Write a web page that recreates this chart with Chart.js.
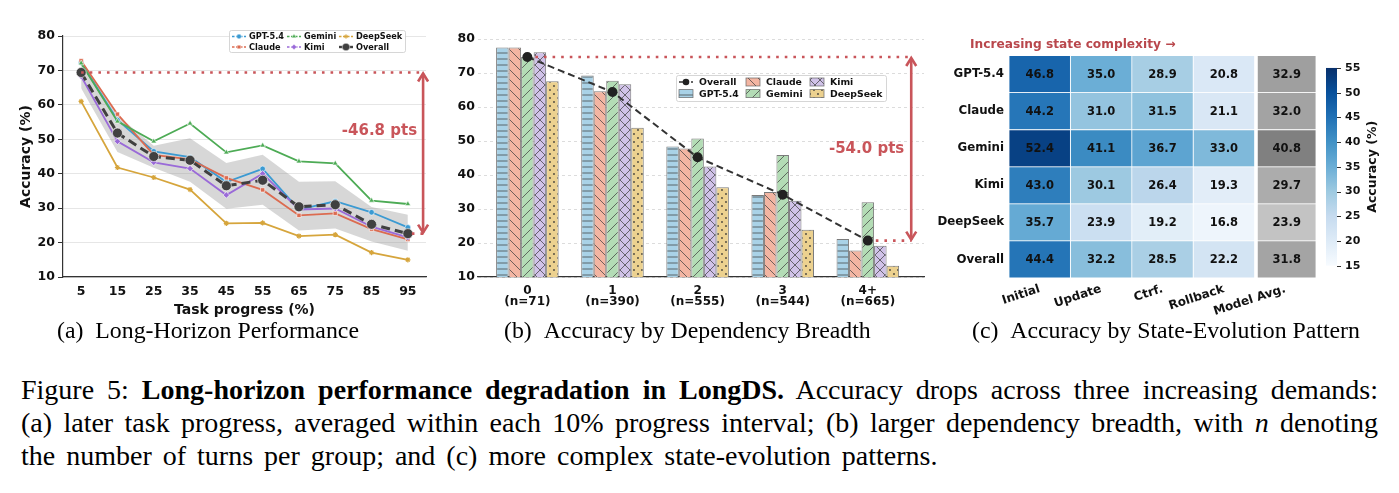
<!DOCTYPE html>
<html>
<head>
<meta charset="utf-8">
<script src="https://cdn.jsdelivr.net/npm/chart.js@4.4.1/dist/chart.umd.min.js"></script>
<style>
  html, body { margin: 0; padding: 0; background: #fff; }
  body { width: 1399px; height: 493px; position: relative; overflow: hidden;
         font-family: 'Liberation Serif', 'Times New Roman', serif; color: #000; }
  canvas { position: absolute; }
  .sub { position: absolute; top: 317px; font-size: 23.8px; line-height: 26px; white-space: nowrap; }
  .cap { position: absolute; left: 21px; top: 373px; width: 1357px; font-size: 28px; line-height: 33px; }
  .cap div { text-align: justify; text-align-last: justify; }
  .cap div.last { text-align-last: left; word-spacing: 4px; }
</style>
</head>
<body>
<canvas id="progChart" width="440" height="300" style="left:0;top:20px"></canvas>
<canvas id="breadthChart" width="490" height="300" style="left:440px;top:20px"></canvas>
<canvas id="stateChart" width="469" height="300" style="left:930px;top:20px"></canvas>

<div class="sub" style="left:57px">(a)&nbsp;&nbsp;Long-Horizon Performance</div>
<div class="sub" style="left:504px">(b)&nbsp;&nbsp;Accuracy by Dependency Breadth</div>
<div class="sub" style="left:972px">(c)&nbsp;&nbsp;Accuracy by State-Evolution Pattern</div>

<div class="cap">
  <div>Figure 5: <b>Long-horizon performance degradation in LongDS.</b> Accuracy drops across three increasing demands:</div>
  <div>(a) later task progress, averaged within each 10% progress interval; (b) larger dependency breadth, with <i>n</i> denoting</div>
  <div class="last">the number of turns per group; and (c) more complex state-evolution patterns.</div>
</div>

<script>
// (a) accuracy vs task progress
const progress     = [5, 15, 25, 35, 45, 55, 65, 75, 85, 95];
const gptProg      = [72.3, 55.6, 46.5, 44.8, 37.6, 41.4, 29.6, 32.0, 28.8, 24.4];
const claudeProg   = [72.8, 57.3, 45.5, 44.2, 38.8, 35.3, 27.9, 28.5, 23.9, 20.9];
const geminiProg   = [72.1, 55.2, 49.4, 54.6, 46.2, 48.2, 43.6, 43.0, 32.2, 31.2];
const kimiProg     = [68.3, 49.4, 43.3, 41.5, 33.8, 40.0, 29.6, 29.9, 24.6, 21.5];
const deepseekProg = [61.0, 41.8, 38.9, 35.4, 25.6, 25.7, 21.9, 22.3, 17.1, 15.0];
const overallProg  = [69.4, 51.8, 45.0, 43.9, 36.5, 38.1, 30.4, 31.0, 25.3, 22.6];
const bandUpper    = [73.0, 57.0, 48.1, 50.3, 43.1, 45.5, 37.7, 37.8, 30.3, 28.1];
const bandLower    = [64.8, 46.3, 41.7, 37.7, 29.8, 31.0, 23.5, 24.1, 20.3, 17.6];

// (b) accuracy vs dependency breadth
const breadthLabels   = ['0', '1', '2', '3', '4+'];
const breadthN        = [71, 390, 555, 544, 665];
const gptBreadth      = [77.5, 69.3, 48.4, 34.1, 21.2];
const claudeBreadth   = [77.5, 64.6, 47.8, 35.0, 17.8];
const geminiBreadth   = [74.7, 67.7, 50.7, 45.9, 32.0];
const kimiBreadth     = [76.1, 66.7, 42.5, 32.4, 19.2];
const deepseekBreadth = [67.6, 53.9, 36.4, 23.9, 13.3];
const overallBreadth  = [74.7, 64.4, 45.2, 34.2, 20.7];

// (c) accuracy by state-evolution pattern
const stateRows   = ['GPT-5.4', 'Claude', 'Gemini', 'Kimi', 'DeepSeek', 'Overall'];
const stateCols   = ['Initial', 'Update', 'Ctrf.', 'Rollback', 'Model Avg.'];
const initialAcc  = [46.8, 44.2, 52.4, 43.0, 35.7, 44.4];
const updateAcc   = [35.0, 31.0, 41.1, 30.1, 23.9, 32.2];
const ctrfAcc     = [28.9, 31.5, 36.7, 26.4, 19.2, 28.5];
const rollbackAcc = [20.8, 21.1, 33.0, 19.3, 16.8, 22.2];
const modelAvgAcc = [32.9, 32.0, 40.8, 29.7, 23.9, 31.8];
const stateValues = [initialAcc, updateAcc, ctrfAcc, rollbackAcc, modelAvgAcc];

Chart.defaults.font.family = "'DejaVu Sans', sans-serif";
Chart.defaults.font.weight = 'bold';
Chart.defaults.font.size = 12;
Chart.defaults.color = '#111';

const RED = '#c9555a';
const FONT = "'DejaVu Sans', sans-serif";

function dotted(ctx, x1, x2, y) {
    ctx.save();
    ctx.strokeStyle = RED; ctx.lineWidth = 2.6; ctx.setLineDash([2.6, 6]);
    ctx.beginPath(); ctx.moveTo(x1, y); ctx.lineTo(x2, y); ctx.stroke();
    ctx.restore();
}

function dblArrow(ctx, x, y1, y2) {
    ctx.save();
    ctx.strokeStyle = RED; ctx.lineWidth = 2.6; ctx.lineJoin = 'miter';
    ctx.beginPath(); ctx.moveTo(x, y1 + 1); ctx.lineTo(x, y2 - 1); ctx.stroke();
    ctx.beginPath();
    ctx.moveTo(x - 5, y1 + 9); ctx.lineTo(x, y1 + 1); ctx.lineTo(x + 5, y1 + 9);
    ctx.moveTo(x - 5, y2 - 9); ctx.lineTo(x, y2 - 1); ctx.lineTo(x + 5, y2 - 9);
    ctx.stroke();
    ctx.restore();
}

function dropLabel(ctx, x, y, top, bottom) {
    ctx.save();
    ctx.font = 'bold 15px ' + FONT; ctx.fillStyle = RED;
    ctx.textAlign = 'right'; ctx.textBaseline = 'middle';
    ctx.fillText('-' + (top - bottom).toFixed(1) + ' pts', x, y);
    ctx.restore();
}

function legendBox(ctx, x, y, w, h) {
    ctx.save();
    ctx.fillStyle = 'rgba(255,255,255,0.85)'; ctx.strokeStyle = '#cccccc'; ctx.lineWidth = 0.8;
    ctx.beginPath(); ctx.roundRect(x + 0.5, y + 0.5, w, h, 2); ctx.fill(); ctx.stroke();
    ctx.restore();
}

// ---------- (a) ----------
const progSeries = [
    { label: 'GPT-5.4',  data: gptProg,      color: '#3b9ad2', style: 'circle',   r: 2.8 },
    { label: 'Claude',   data: claudeProg,   color: '#dc6b50', style: 'rect',     r: 3.0 },
    { label: 'Gemini',   data: geminiProg,   color: '#4dab55', style: 'triangle', r: 3.2 },
    { label: 'Kimi',     data: kimiProg,     color: '#9a6ad8', style: 'rectRot',  r: 3.2 },
    { label: 'DeepSeek', data: deepseekProg, color: '#d6a53c', style: 'star',     r: 2.6 },
];

const progDatasets = [
    { label: 'upper', data: bandUpper.map((v, i) => ({ x: progress[i], y: v })),
      borderWidth: 0, pointRadius: 0, fill: false, order: 10 },
    { label: 'lower', data: bandLower.map((v, i) => ({ x: progress[i], y: v })),
      borderWidth: 0, pointRadius: 0, fill: '-1', backgroundColor: 'rgba(150,150,150,0.38)', order: 10 },
];
progSeries.forEach((s, k) => progDatasets.push({
    label: s.label, data: s.data.map((v, i) => ({ x: progress[i], y: v })),
    borderColor: s.color, backgroundColor: s.color, borderWidth: 1.8,
    pointStyle: s.style, pointRadius: s.r, pointBackgroundColor: s.color,
    pointBorderColor: s.style === 'star' ? s.color : '#fff', pointBorderWidth: s.style === 'star' ? 1.2 : 0.6,
    order: 5 - k, fill: false
}));
progDatasets.push({
    label: 'Overall', data: overallProg.map((v, i) => ({ x: progress[i], y: v })),
    borderColor: '#404040', backgroundColor: '#404040', borderWidth: 3, borderDash: [9, 5],
    pointRadius: 5, pointBackgroundColor: '#404040', pointBorderColor: '#fff', pointBorderWidth: 0.6,
    order: 0, fill: false
});

function legendMarker(ctx, s, x, y) {
    ctx.save();
    ctx.strokeStyle = s.color; ctx.fillStyle = s.color;
    ctx.lineWidth = s.label === 'Overall' ? 2.4 : 1.4;
    if (s.label !== 'Overall') ctx.setLineDash([2.5, 1.5]);
    ctx.beginPath(); ctx.moveTo(x, y); ctx.lineTo(x + 14, y); ctx.stroke();
    ctx.setLineDash([]);
    ctx.lineWidth = s.style === 'star' ? 1 : 0.5;
    ctx.strokeStyle = s.style === 'star' ? s.color : '#fff';
    Chart.helpers.drawPoint(ctx, { pointStyle: s.style, radius: s.r * 0.85, rotation: 0, borderWidth: ctx.lineWidth }, x + 7, y);
    ctx.restore();
}

const progPlugin = {
    id: 'progAnnot',
    afterDatasetsDraw(chart) {
        const { ctx, scales: { x, y } } = chart;
        const top = overallProg[0], bottom = overallProg[overallProg.length - 1];
        const ax = x.getPixelForValue(99.2);
        dotted(ctx, x.getPixelForValue(progress[0]), ax, y.getPixelForValue(top));
        dotted(ctx, x.getPixelForValue(progress[progress.length - 1]) + 4, ax, y.getPixelForValue(bottom));
        dblArrow(ctx, ax, y.getPixelForValue(top), y.getPixelForValue(bottom));
        dropLabel(ctx, ax - 6, y.getPixelForValue(52.3), top, bottom);
    },
    afterDraw(chart) {
        const { ctx, chartArea } = chart;
        const bx = chartArea.right - 197, by = chartArea.top - 6;
        legendBox(ctx, bx, by, 176, 22);
        const items = progSeries.concat([{ label: 'Overall', color: '#404040', style: 'circle', r: 4.5 }]);
        const colX = [3, 58, 110];
        ctx.save();
        items.forEach((s, i) => {
            const cx = bx + colX[Math.floor(i / 2)], cy = by + 6.5 + (i % 2) * 10.5;
            legendMarker(ctx, s, cx, cy);
            ctx.font = 'bold 8.2px ' + FONT; ctx.fillStyle = '#111';
            ctx.textAlign = 'left'; ctx.textBaseline = 'middle';
            ctx.fillText(s.label, cx + 17, cy + 0.5);
        });
        ctx.restore();
    }
};

new Chart(document.getElementById('progChart'), {
    type: 'line',
    data: { datasets: progDatasets },
    options: {
        responsive: false, animation: false,
        layout: { padding: { top: 16, right: 14, left: 0, bottom: 0 } },
        plugins: { legend: { display: false }, tooltip: { enabled: false } },
        scales: {
            x: {
                type: 'linear', min: 0, max: 100,
                afterBuildTicks: s => { s.ticks = progress.map(v => ({ value: v })); },
                afterFit: s => { s.height = 43; },
                ticks: { font: { size: 12.5 }, padding: 7, callback: v => v },
                grid: { drawOnChartArea: false, drawTicks: false },
                border: { color: '#333', width: 1.2 },
                title: { display: true, text: 'Task progress (%)', font: { size: 14 }, padding: { top: 0, bottom: 1 } }
            },
            y: {
                min: 10, max: 80,
                afterFit: s => { s.width = 63; },
                ticks: { stepSize: 10, font: { size: 12.5 }, padding: 3 },
                grid: { color: '#e6e6e6', tickColor: '#333', tickLength: 5 },
                border: { color: '#333', width: 1.2 },
                title: { display: true, text: 'Accuracy (%)', font: { size: 14 }, padding: { top: 18, bottom: 0 } }
            }
        }
    },
    plugins: [progPlugin]
});

// ---------- (b) ----------
const pctx = document.createElement('canvas').getContext('2d');
function hatch(bg, kind) {
    const s = kind === 'h' ? 6 : kind === 'd' ? 8 : 10;
    const c = document.createElement('canvas');
    c.width = s; c.height = s;
    const g = c.getContext('2d');
    g.fillStyle = bg; g.fillRect(0, 0, s, s);
    g.strokeStyle = 'rgba(60,60,60,0.8)'; g.fillStyle = 'rgba(50,50,50,0.9)'; g.lineWidth = 0.9;
    g.beginPath();
    if (kind === 'h') { g.moveTo(0, s / 2); g.lineTo(s, s / 2); }
    if (kind === 'b' || kind === 'x') for (const k of [-s, 0, s]) { g.moveTo(k, 0); g.lineTo(k + s, s); }
    if (kind === 'f' || kind === 'x') for (const k of [-s, 0, s]) { g.moveTo(k, s); g.lineTo(k + s, 0); }
    g.stroke();
    if (kind === 'd') {
        g.beginPath(); g.arc(2, 2, 0.9, 0, Math.PI * 2); g.arc(6, 6, 0.9, 0, Math.PI * 2); g.fill();
    }
    return pctx.createPattern(c, 'repeat');
}

const breadthSeries = [
    { label: 'GPT-5.4',  data: gptBreadth,      bg: hatch('#a9d2e7', 'h') },
    { label: 'Claude',   data: claudeBreadth,   bg: hatch('#f3b5a2', 'b') },
    { label: 'Gemini',   data: geminiBreadth,   bg: hatch('#b3dcb5', 'f') },
    { label: 'Kimi',     data: kimiBreadth,     bg: hatch('#d0c2e8', 'x') },
    { label: 'DeepSeek', data: deepseekBreadth, bg: hatch('#ecd18f', 'd') },
];

const breadthDatasets = [{
    type: 'line', label: 'Overall',
    data: overallBreadth.map((v, i) => ({ x: i, y: v })),
    borderColor: '#333', borderWidth: 2, borderDash: [7, 4],
    pointRadius: 4, pointBackgroundColor: '#222', pointBorderColor: '#222', order: 0
}].concat(breadthSeries.map(s => ({
    type: 'bar', label: s.label,
    data: s.data.map((v, i) => ({ x: i, y: v })),
    backgroundColor: s.bg, borderColor: 'rgba(100,100,100,0.85)', borderWidth: 1,
    barPercentage: 1, categoryPercentage: 0.735, order: 1
})));

const breadthPlugin = {
    id: 'breadthAnnot',
    afterDatasetsDraw(chart) {
        const { ctx, scales: { x, y } } = chart;
        const top = overallBreadth[0], bottom = overallBreadth[overallBreadth.length - 1];
        const ax = x.getPixelForValue(4.51);
        dotted(ctx, x.getPixelForValue(0) + 8, ax, y.getPixelForValue(top));
        dotted(ctx, x.getPixelForValue(overallBreadth.length - 1) + 8, ax, y.getPixelForValue(bottom));
        dblArrow(ctx, ax, y.getPixelForValue(top), y.getPixelForValue(bottom));
        dropLabel(ctx, ax - 7, y.getPixelForValue((top + bottom) / 2), top, bottom);
    },
    afterDraw(chart) {
        const { ctx, chartArea } = chart;
        const bx = chartArea.left + 198, by = chartArea.top + 36;
        legendBox(ctx, bx, by, 210, 26);
        const items = [{ label: 'Overall' }].concat(breadthSeries);
        const colX = [3, 70, 134];
        ctx.save();
        items.forEach((s, i) => {
            const cx = bx + colX[Math.floor(i / 2)], cy = by + 7 + (i % 2) * 11.6;
            if (s.label === 'Overall') {
                ctx.strokeStyle = '#333'; ctx.lineWidth = 1.6; ctx.setLineDash([4, 2]);
                ctx.beginPath(); ctx.moveTo(cx, cy); ctx.lineTo(cx + 14, cy); ctx.stroke();
                ctx.setLineDash([]);
                ctx.fillStyle = '#222'; ctx.beginPath(); ctx.arc(cx + 7, cy, 3.3, 0, Math.PI * 2); ctx.fill();
            } else {
                ctx.fillStyle = s.bg; ctx.fillRect(cx, cy - 4, 14, 8);
                ctx.strokeStyle = 'rgba(100,100,100,0.85)'; ctx.lineWidth = 0.8; ctx.strokeRect(cx, cy - 4, 14, 8);
            }
            ctx.font = 'bold 9.3px ' + FONT; ctx.fillStyle = '#111';
            ctx.textAlign = 'left'; ctx.textBaseline = 'middle';
            ctx.fillText(s.label, cx + 20, cy + 0.5);
        });
        ctx.restore();
    }
};

new Chart(document.getElementById('breadthChart'), {
    data: { datasets: breadthDatasets },
    options: {
        responsive: false, animation: false,
        layout: { padding: { top: 19, right: 0, left: 0, bottom: 0 } },
        plugins: { legend: { display: false }, tooltip: { enabled: false } },
        scales: {
            x: {
                type: 'linear', min: -0.58, max: 4.66, offset: false,
                afterBuildTicks: s => { s.ticks = breadthLabels.map((_, i) => ({ value: i })); },
                afterFit: s => { s.height = 43; },
                ticks: { font: { size: 12, lineHeight: 0.95 }, padding: 8,
                         callback: (v, i) => [breadthLabels[i], '(n=' + breadthN[i] + ')'] },
                grid: { drawOnChartArea: false, drawTicks: false },
                border: { color: '#333', width: 1.2 }
            },
            y: {
                min: 10, max: 80,
                afterFit: s => { s.width = 38; },
                ticks: { stepSize: 10, font: { size: 12.5 }, padding: 3 },
                grid: { color: '#dcdcdc', drawTicks: false },
                border: { display: false, dash: [3, 3] }
            }
        }
    },
    plugins: [breadthPlugin]
});

// ---------- (c) ----------
const bluesStops = ['#f7fbff', '#deebf7', '#c6dbef', '#9ecae1', '#6baed6', '#4292c6', '#2171b5', '#08519c', '#08306b'];
function hexRgb(h) { return [1, 3, 5].map(i => parseInt(h.slice(i, i + 2), 16)); }
function blues(v) {
    const t = Math.min(1, Math.max(0, (v - 15) / 40)) * 8;
    const i = Math.min(7, Math.floor(t)), f = t - i;
    const a = hexRgb(bluesStops[i]), b = hexRgb(bluesStops[i + 1]);
    return 'rgb(' + a.map((c, k) => Math.round(c + (b[k] - c) * f)).join(',') + ')';
}
function greys(v) {
    const g = Math.round(195 - (v - 23.9) * 3.96);
    return 'rgb(' + g + ',' + g + ',' + g + ')';
}

const stateDatasets = stateCols.map((col, c) => ({
    label: col,
    data: stateRows.map(() => [c, c + 1]),
    backgroundColor: stateValues[c].map(v => c === 4 ? greys(v) : blues(v)),
    borderColor: '#fff',
    borderWidth: c === 4 ? { left: 3.5, right: 0.75, top: 0.75, bottom: 0.75 } : 0.75,
    borderSkipped: false, grouped: false,
    barPercentage: 1, categoryPercentage: 1
}));

const statePlugin = {
    id: 'stateAnnot',
    afterDatasetsDraw(chart) {
        const { ctx, chartArea } = chart;
        ctx.save();
        ctx.font = 'bold 11.5px ' + FONT; ctx.fillStyle = '#111';
        ctx.textAlign = 'center'; ctx.textBaseline = 'middle';
        stateValues.forEach((vals, c) => {
            chart.getDatasetMeta(c).data.forEach((el, r) => {
                ctx.fillText(vals[r].toFixed(1), (el.x + el.base) / 2 + (c === 4 ? 1.4 : 0), el.y + 0.5);
            });
        });
        // heading
        ctx.font = 'bold 12.2px ' + FONT; ctx.fillStyle = '#b9474c'; ctx.textAlign = 'left';
        ctx.fillText('Increasing state complexity \u2192', chartArea.left - 39, chartArea.top - 11);
        // colorbar
        const cb = chart.scales.cb;
        const x0 = chartArea.right + 10, x1 = chartArea.right + 21;
        const yTop = cb.getPixelForValue(55), yBot = cb.getPixelForValue(15);
        const grad = ctx.createLinearGradient(0, yBot, 0, yTop);
        bluesStops.forEach((c, i) => grad.addColorStop(i / 8, c));
        ctx.fillStyle = grad; ctx.fillRect(x0, yTop, x1 - x0, yBot - yTop);
        ctx.strokeStyle = '#333'; ctx.lineWidth = 1;
        cb.ticks.forEach(t => {
            const ty = Math.round(cb.getPixelForValue(t.value)) + 0.5;
            ctx.beginPath(); ctx.moveTo(x1, ty); ctx.lineTo(x1 + 4, ty); ctx.stroke();
        });
        ctx.translate(chartArea.right + 57, (yTop + yBot) / 2);
        ctx.rotate(-Math.PI / 2);
        ctx.font = 'bold 12.5px ' + FONT; ctx.fillStyle = '#111'; ctx.textAlign = 'center';
        ctx.fillText('Accuracy (%)', 0, 0);
        ctx.restore();
    }
};

new Chart(document.getElementById('stateChart'), {
    type: 'bar',
    data: { labels: stateRows, datasets: stateDatasets },
    options: {
        indexAxis: 'y',
        responsive: false, animation: false,
        layout: { padding: { top: 32, right: 0, left: 0, bottom: 0 } },
        plugins: { legend: { display: false }, tooltip: { enabled: false } },
        scales: {
            x: {
                type: 'linear', min: 0, max: 5,
                afterBuildTicks: s => { s.ticks = stateCols.map((_, i) => ({ value: i + 0.5 })); },
                afterFit: s => { s.height = 42; },
                ticks: { font: { size: 12 }, padding: 4, minRotation: 18, maxRotation: 18, autoSkip: false,
                         callback: (v, i) => stateCols[i] },
                grid: { display: false, drawTicks: false },
                border: { display: false }
            },
            y: {
                type: 'category',
                afterFit: s => { s.width = 79; },
                ticks: { font: { size: 11.8 }, padding: 5 },
                grid: { display: false, drawTicks: false },
                border: { display: false }
            },
            cb: {
                type: 'linear', position: 'right', min: 15, max: 55,
                afterFit: s => { s.width = 83; },
                ticks: { stepSize: 5, font: { size: 11 }, padding: 29 },
                grid: { display: false, drawTicks: false },
                border: { display: false }
            }
        }
    },
    plugins: [statePlugin]
});
</script>
</body>
</html>
